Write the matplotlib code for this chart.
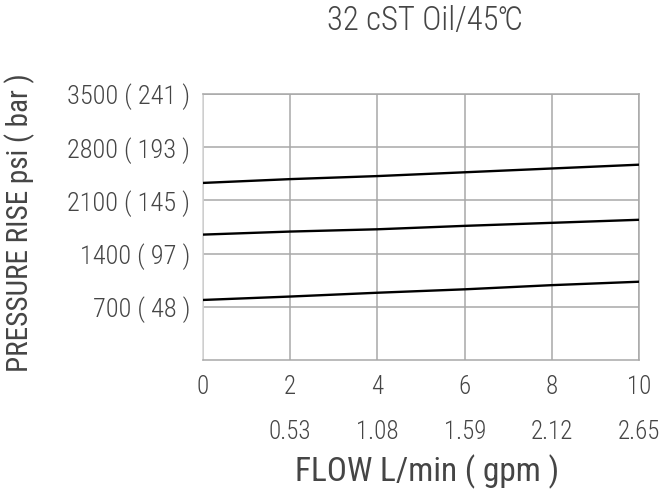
import matplotlib.pyplot as plt
import numpy as np

# flow in L/min and matching gpm labels
flow_lpm = [0, 2, 4, 6, 8, 10]
flow_gpm = ['', '0.53', '1.08', '1.59', '2.12', '2.65']

# pressure rise in psi, three curves
curve_high = [2330, 2380, 2420, 2470, 2520, 2570]
curve_mid = [1650, 1690, 1720, 1765, 1805, 1845]
curve_low = [790, 835, 885, 930, 985, 1030]

psi_ticks = [700, 1400, 2100, 2800, 3500]
bar_ticks = [48, 97, 145, 193, 241]

txt_color = '#454545'
grid_color = '#a8a8a8'

plt.rcParams['font.family'] = ['Roboto Condensed', 'Liberation Sans', 'DejaVu Sans']
plt.rcParams['font.weight'] = 'light'

fig = plt.figure(figsize=(6.67, 5), dpi=100)
ax = fig.add_axes([0.3043, 0.28, 0.654, 0.532])

for ys in (curve_high, curve_mid, curve_low):
    ax.plot(flow_lpm, ys, color='black', lw=1.7, zorder=3)

ax.set_xlim(0, 10)
ax.set_ylim(0, 3500)

ax.set_xticks(flow_lpm)
ax.set_xticklabels(['%d\n%s' % (f, g) for f, g in zip(flow_lpm, flow_gpm)],
                   linespacing=2.1)
ax.set_yticks(psi_ticks)
ax.set_yticklabels(['%d ( %d )' % (p, b) for p, b in zip(psi_ticks, bar_ticks)])

ax.tick_params(axis='both', length=0, labelcolor=txt_color)
ax.tick_params(axis='y', pad=9, labelsize=19)
ax.tick_params(axis='x', pad=11, labelsize=18)

ax.grid(True, color=grid_color, lw=1.1)
for s in ax.spines.values():
    s.set_color(grid_color)
    s.set_linewidth(1.1)
ax.spines['left'].set_color('#d4d4d4')

ax.set_xlabel('FLOW L/min ( gpm )', fontsize=24, color=txt_color)
ax.xaxis.set_label_coords(0.514, -0.357)
ax.set_ylabel('PRESSURE RISE psi ( bar )', fontsize=21, color=txt_color)
ax.yaxis.set_label_coords(-0.385, 0.515)
fig.text(0.637, 0.958, '32 cST Oil/45℃', fontsize=23.5, color=txt_color,
         ha='center', va='center')

fig.savefig('out.png', dpi=100)
